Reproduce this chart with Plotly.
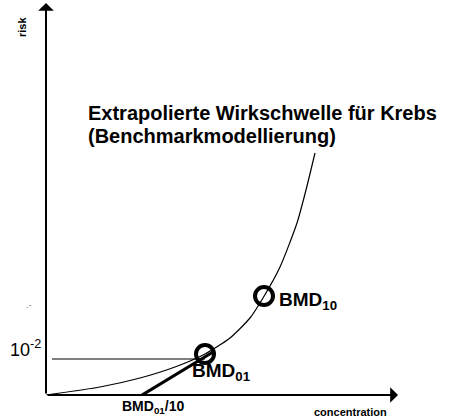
import plotly.graph_objects as go

# schematic dose-response sketch, arbitrary units (x: concentration, y: risk)
curve_x = [0, 54, 94, 129, 159, 184, 204, 217, 234, 251, 260, 269]
curve_y = [0, 8, 17, 28, 41, 57, 77, 97, 128, 172, 205, 242]

ref_x = [6, 159]          # 10^-2 risk level line
ref_y = [36, 36]

extrap_x = [96, 167]      # linear extrapolation BMD01/10 -> BMD01
extrap_y = [0, 43]

bmd_x = [159, 218]        # BMD01, BMD10
bmd_y = [41, 99]

X_MAX = 352
Y_MAX = 392
FONT = "Liberation Sans, Arial, sans-serif"

fig = go.Figure()
fig.add_trace(go.Scatter(
    x=curve_x, y=curve_y, mode="lines",
    line=dict(color="black", width=1.2, shape="spline", smoothing=0.6),
    hoverinfo="skip"
))
fig.add_trace(go.Scatter(
    x=ref_x, y=ref_y, mode="lines",
    line=dict(color="black", width=1.2), hoverinfo="skip"
))
fig.add_trace(go.Scatter(
    x=extrap_x, y=extrap_y, mode="lines",
    line=dict(color="black", width=3.2), hoverinfo="skip"
))
fig.add_trace(go.Scatter(
    x=bmd_x, y=bmd_y, mode="markers",
    marker=dict(symbol="circle-open", size=18, color="black", line=dict(width=4)),
    hoverinfo="skip"
))

ann = []
# axes with arrow heads
ann.append(dict(x=0, y=Y_MAX, ax=0, ay=Y_MAX, xref="x", yref="y",
                showarrow=True, arrowhead=1, arrowsize=1.3, arrowwidth=2, arrowcolor="black", text=""))
ann.append(dict(x=X_MAX, y=0, ax=-X_MAX, ay=0, xref="x", yref="y",
                showarrow=True, arrowhead=1, arrowsize=1.3, arrowwidth=2, arrowcolor="black", text=""))


def label(text, x, y, size, bold=True, xanchor="center", yanchor="middle", angle=0,
          color="black", align="center"):
    # x, y in the same units as the axes, paper refs so labels may sit outside the frame
    t = f"<b>{text}</b>" if bold else text
    ann.append(dict(x=x / X_MAX, y=y / Y_MAX, xref="paper", yref="paper", text=t,
                    showarrow=False, xanchor=xanchor, yanchor=yanchor, textangle=angle,
                    align=align, font=dict(family=FONT, size=size, color=color)))


label("Extrapolierte Wirkschwelle für Krebs", 40, 282, 20, xanchor="left")
label("(Benchmarkmodellierung)", 40, 259, 20, xanchor="left")
label("BMD<sub>10</sub>", 231, 94, 19, xanchor="left")
label("BMD<sub>01</sub>", 144, 23, 19, xanchor="left")
label("BMD<sub>01</sub>/10", 107, -12, 14)
label("concentration", 304, -17, 11)
label("risk", -24, 368, 11, angle=-90)
label("10<sup>-2</sup>", -21, 47, 18, bold=False)
label(".-", -17, 90, 9, bold=False, color="#777777")

fig.update_layout(
    width=449, height=420,
    margin=dict(l=46, r=51, t=3, b=25),
    paper_bgcolor="white", plot_bgcolor="white",
    showlegend=False,
    xaxis=dict(range=[0, X_MAX], visible=False, fixedrange=True),
    yaxis=dict(range=[0, Y_MAX], visible=False, fixedrange=True),
    annotations=ann,
)
fig.write_html("out.html", config={"displayModeBar": False},
               post_script="document.body.style.margin='0';")
